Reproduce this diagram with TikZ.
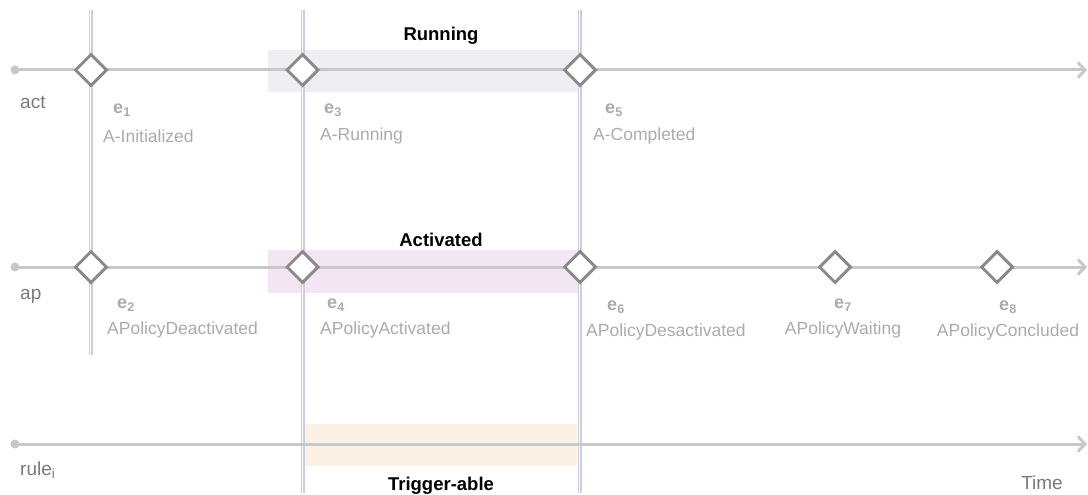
\documentclass[tikz,border=0pt]{standalone}
\usepackage{fontspec}
\setmainfont{Liberation Sans}
\usetikzlibrary{positioning,arrows.meta,shapes.geometric}
\definecolor{axisgray}{HTML}{C8C8C8}
\definecolor{diagray}{HTML}{8A8A8A}
\definecolor{lavline}{HTML}{CDCDE0}
\definecolor{evgray}{HTML}{ABABAB}
\definecolor{rowgray}{HTML}{7A7A7A}
\definecolor{runfill}{HTML}{EEEEF3}
\definecolor{actfill}{HTML}{F3E6F3}
\definecolor{trigfill}{HTML}{FCF1E5}
\tikzset{
  axisline/.style={line width=3pt, axisgray, -{Straight Barb[length=7pt, width=15pt]}},
  startdot/.style={circle, fill=axisgray, minimum size=9pt, inner sep=0pt},
  splitline/.style={draw=lavline, line width=1.1pt, double=white, double distance=1.8pt},
  evtnode/.style={diamond, draw=diagray, line width=3pt, fill=white, minimum size=32pt, inner sep=0pt},
  bandnode/.style={inner sep=0pt, outer sep=0pt},
  evlabel/.style={font=\fontsize{18}{20}\selectfont\bfseries, text=evgray, inner sep=0pt},
  evname/.style={font=\fontsize{17.5}{20}\selectfont, text=evgray, inner sep=0pt},
  rowlabel/.style={font=\fontsize{19}{22}\selectfont, text=rowgray, anchor=west, inner sep=0pt},
  statetitle/.style={font=\fontsize{18.5}{22}\selectfont\bfseries, inner sep=0pt}
}
\begin{document}
\begin{tikzpicture}[x=1pt, y=-1pt]
  \useasboundingbox (0,0) rectangle (1088,495);
  \node[bandnode, fill=runfill, minimum width=311pt, minimum height=42pt] (runband) at (423.5,71) {};
  \node[bandnode, fill=actfill, minimum width=311pt, minimum height=43pt] (actband) at (423.5,271.5) {};
  \node[bandnode, fill=trigfill, minimum width=272pt, minimum height=42pt] (trigband) at (441,445) {};
  \node[statetitle] (runtitle) at (441,36) {Running};
  \node[statetitle] (acttitle) at (441,240) {Activated};
  \node[statetitle] (trigtitle) at (441,486) {Trigger-able};

  \coordinate (v1top) at (90.5,10);
  \coordinate (v1bot) at (90.5,355);
  \coordinate (v2top) at (302.5,10);
  \coordinate (v2bot) at (302.5,493);
  \coordinate (v3top) at (579.5,10);
  \coordinate (v3bot) at (579.5,493);
  \draw[splitline] (v1top) -- (v1bot);
  \draw[splitline] (v2top) -- (v2bot);
  \draw[splitline] (v3top) -- (v3bot);

  \node[startdot] (actdot) at (15,70) {};
  \node[startdot] (apdot) at (15,267) {};
  \node[startdot] (ruledot) at (15,444) {};
  \coordinate (actend) at (1087,70);
  \coordinate (apend) at (1087,267);
  \coordinate (ruleend) at (1087,444);
  \draw[axisline] (actdot.center) -- (actend);
  \draw[axisline] (apdot.center) -- (apend);
  \draw[axisline] (ruledot.center) -- (ruleend);

  \node[rowlabel] (actrow) at (20,102) {act};
  \node[rowlabel] (aprow) at (20,296) {ap};
  \node[rowlabel] (rulerow) at (20,470) {rule\textsubscript{i}};
  \node[rowlabel, anchor=center] (timelbl) at (1042,483) {Time};

  \node[evtnode] (e1) at (91,70) {};
  \node[evtnode] (e3) at (302.5,70) {};
  \node[evtnode] (e5) at (580,70) {};
  \node[evtnode] (e2) at (91,267) {};
  \node[evtnode] (e4) at (302.5,267) {};
  \node[evtnode] (e6) at (580,267) {};
  \node[evtnode] (e7) at (835,267) {};
  \node[evtnode] (e8) at (997,267) {};

  \node[evlabel] (e1lbl) at (122,110) {e\textsubscript{1}};
  \node[evname, anchor=west] (e1txt) at (103,136) {A-Initialized};
  \node[evlabel] (e3lbl) at (333,110) {e\textsubscript{3}};
  \node[evname, anchor=west] (e3txt) at (320,136) {A-Running};
  \node[evlabel] (e5lbl) at (614,110) {e\textsubscript{5}};
  \node[evname, anchor=west] (e5txt) at (593,136) {A-Completed};
  \node[evlabel] (e2lbl) at (126,305) {e\textsubscript{2}};
  \node[evname, anchor=west] (e2txt) at (107,330) {APolicyDeactivated};
  \node[evlabel] (e4lbl) at (336,305) {e\textsubscript{4}};
  \node[evname, anchor=west] (e4txt) at (320,330) {APolicyActivated};
  \node[evlabel] (e6lbl) at (616,307) {e\textsubscript{6}};
  \node[evname, anchor=west] (e6txt) at (586,332) {APolicyDesactivated};
  \node[evlabel] (e7lbl) at (843,305) {e\textsubscript{7}};
  \node[evname] (e7txt) at (843,330) {APolicyWaiting};
  \node[evlabel] (e8lbl) at (1008,307) {e\textsubscript{8}};
  \node[evname] (e8txt) at (1008,332) {APolicyConcluded};
\end{tikzpicture}
\end{document}
